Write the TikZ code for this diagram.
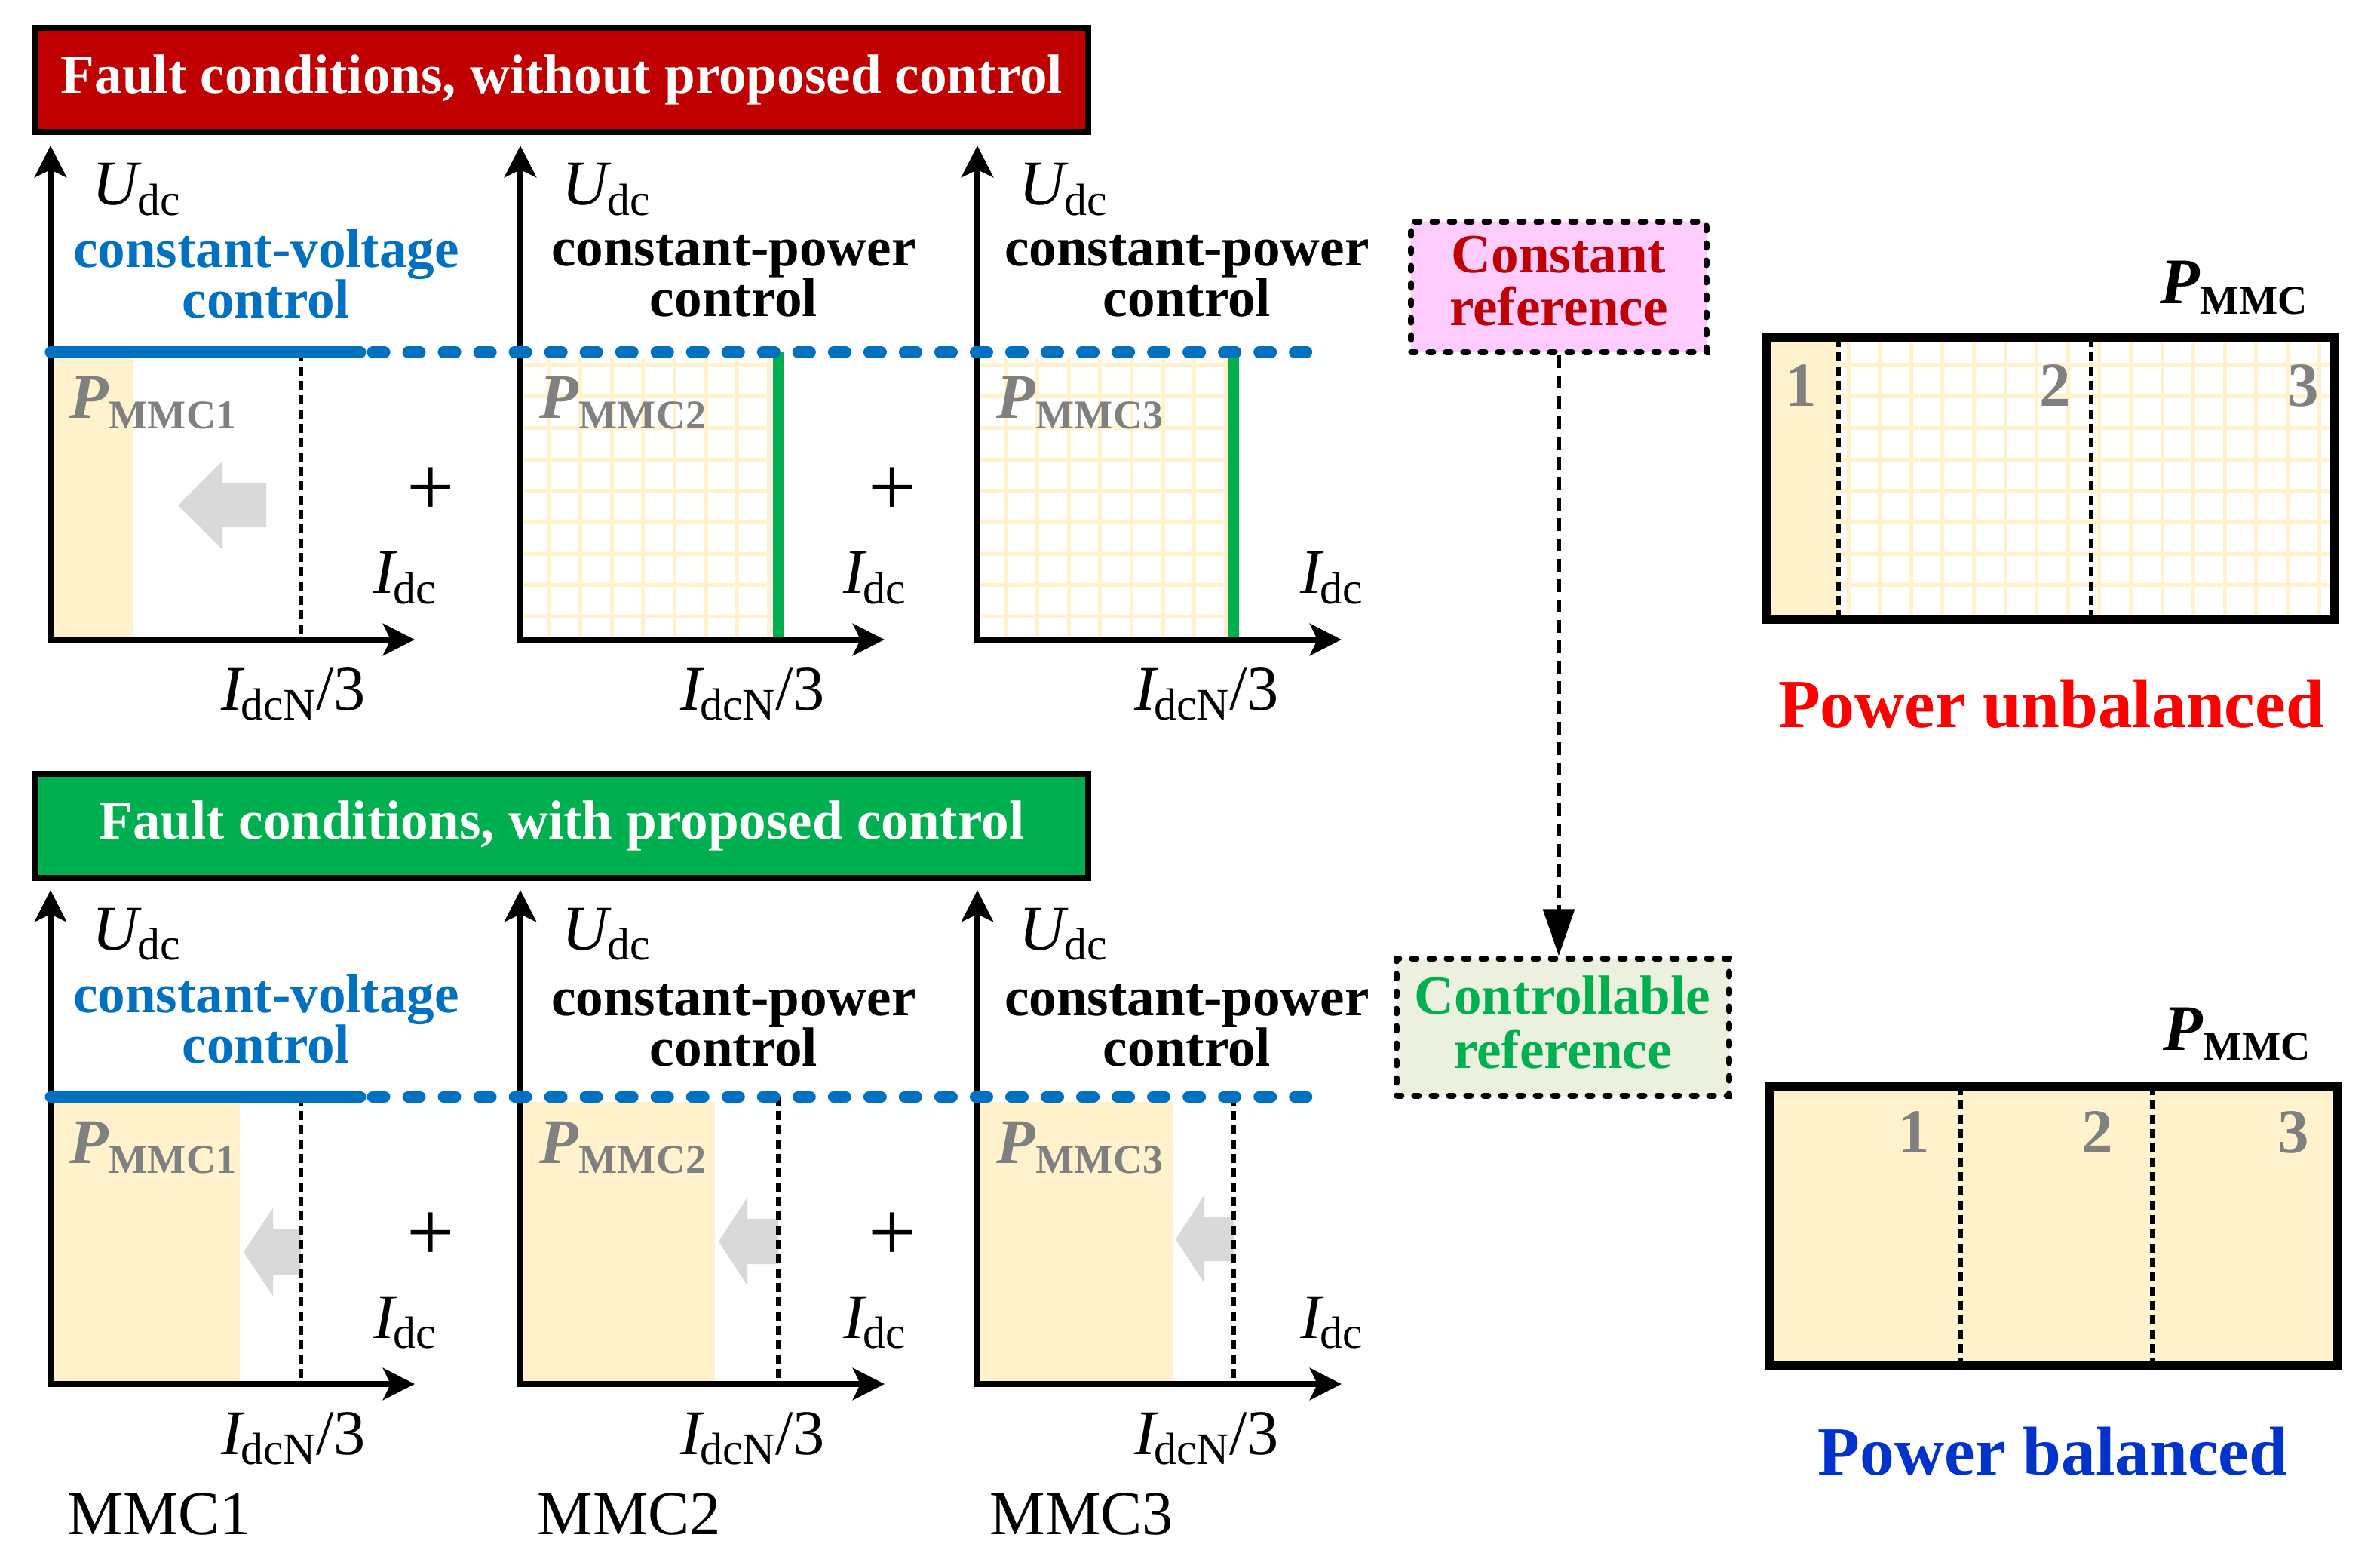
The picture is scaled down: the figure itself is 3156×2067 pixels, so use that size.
\documentclass[tikz,border=0pt]{standalone}
\usepackage{fontspec}
\setmainfont{Liberation Serif}
\usetikzlibrary{arrows.meta}
\definecolor{cvblue}{RGB}{0,112,192}
\definecolor{grn}{RGB}{0,176,80}
\definecolor{lyel}{RGB}{255,242,204}
\definecolor{garrow}{RGB}{217,217,217}
\definecolor{gtext}{RGB}{128,128,128}
\definecolor{pinkb}{RGB}{255,204,255}
\definecolor{lgrn}{RGB}{235,241,222}
\definecolor{tred}{RGB}{192,0,0}
\definecolor{pred}{RGB}{255,0,0}
\definecolor{pblue}{RGB}{0,51,204}
\newcommand{\fsz}[1]{\fontsize{#1}{#1}\selectfont}
\newcommand{\ms}[2]{\textit{#1}\kern-1.5pt\raisebox{-3.7pt}{\fsz{17pt}#2}}
\newcommand{\pmml}[1]{\textbf{\textit{P}}\raisebox{-3.7pt}{\fsz{15.4pt}\textbf{MMC#1}}}
\tikzset{
  axisline/.style={line width=0.08cm, line join=miter, <->, >={Stealth[length=0.42cm,width=0.42cm,inset=0.1cm]}},
  blueline/.style={line width=0.15cm, draw=cvblue, line cap=round},
  bluedash/.style={blueline, dash pattern=on 0.16cm off 0.31cm},
  dotln/.style={line width=0.06cm, dash pattern=on 0.12cm off 0.07cm},
  greenln/.style={line width=0.14cm, draw=grn},
  gridl/.style={line width=0.05cm, draw=lyel},
  lbl/.style={inner sep=0, font=\fsz{24pt}},
  ctrltxt/.style={inner sep=0, font=\fsz{20.8pt}\bfseries},
  plbl/.style={inner sep=0, font=\fsz{24pt}, text=gtext},
  numlbl/.style={inner sep=0, font=\fsz{23.6pt}\bfseries, text=gtext},
  titlebox/.style={draw=black, line width=0.08cm, minimum width=13.96cm, minimum height=1.38cm, inner sep=0, text=white, font=\fsz{20.8pt}\bfseries},
  refbox/.style={draw=black, line width=0.08cm, line cap=round, dash pattern=on 0.06cm off 0.17cm, inner sep=0},
  conn/.style={line width=0.06cm, dash pattern=on 0.17cm off 0.10cm, -{Triangle[length=0.62cm,width=0.41cm]}},
  pbox/.style={line width=0.12cm},
  garr/.style={fill=garrow, draw=none},
  mmclbl/.style={inner sep=0, font=\fsz{23.5pt}},
  plussign/.style={inner sep=0, font=\fsz{32pt}},
}
% grid fill: x1 y1 x2 y2 xstart ystart
\newcommand{\gridfill}[6]{%
  \begin{scope}
    \clip (#1,#2) rectangle (#3,#4);
    \foreach \k in {0,...,18} {
      \draw[gridl] ({#5+41.6*\k},#2) -- ({#5+41.6*\k},#4);
      \draw[gridl] (#1,{#6+41.7*\k}) -- (#3,{#6+41.7*\k});
    }
  \end{scope}}
% axes and axis labels: X, Y(origin), prefix, IdcN centre x
\newcommand{\axesset}[4]{%
  \draw[axisline] (#1,#2-655) -- (#1,#2) -- (#1+483,#2);
  \node[lbl,anchor=base west] (#3u) at (#1+55,#2-576) {\ms{U}{dc}};
  \node[lbl,anchor=base west] (#3i) at (#1+428,#2-61) {\ms{I}{dc}};
  \node[lbl,anchor=base] (#3n) at (#4,#2+93) {\ms{I}{dcN}/3};
}
% grey arrow: tip, back, end, centre y, head half, shaft half
\newcommand{\garrowshape}[6]{%
  \fill[garr] (#1,#4) -- (#2,#4-#5) -- (#2,#4-#6) -- (#3,#4-#6) -- (#3,#4+#6) -- (#2,#4+#6) -- (#2,#4+#5) -- cycle;
}
\begin{document}
\begin{tikzpicture}[x=0.01cm,y=-0.01cm]
\useasboundingbox (0,0) rectangle (3156,2067);
\fill[white] (0,0) rectangle (3156,2067);

% ---------------- titles
\node[titlebox, fill=tred] (title1) at (745,106) {Fault conditions, without proposed control};
\node[titlebox, fill=grn] (title2) at (745,1095) {Fault conditions, with proposed control};

% ---------------- top row fills
\fill[lyel] (69,474) rectangle (176,848);
\gridfill{690}{474}{1032}{848}{686.4}{442.3}
\gridfill{1296}{474}{1636}{848}{1292.4}{442.3}
\garrowshape{236}{295}{353}{670}{58.5}{29}
\draw[dotln] (399,467) -- (399,848);
\draw[greenln] (1032,467) -- (1032,848);
\draw[greenln] (1636,467) -- (1636,848);

% ---------------- bottom row fills
\fill[lyel] (69,1461) rectangle (318,1835);
\fill[lyel] (690,1461) rectangle (948,1835);
\fill[lyel] (1296,1461) rectangle (1555,1835);
\garrowshape{323}{362}{399}{1660}{58.5}{30}
\garrowshape{953}{991}{1032}{1646}{58.5}{30}
\garrowshape{1559}{1597}{1636}{1643}{58.5}{29}
\draw[dotln] (399,1454) -- (399,1835);
\draw[dotln] (1032,1454) -- (1032,1835);
\draw[dotln] (1636,1454) -- (1636,1835);

% ---------------- axes
\axesset{67}{848}{ta}{389}
\axesset{690}{848}{tb}{998}
\axesset{1296}{848}{tc}{1600}
\axesset{67}{1835}{ba}{389}
\axesset{690}{1835}{bb}{998}
\axesset{1296}{1835}{bc}{1600}

% ---------------- blue voltage lines
\draw[blueline] (67,467) -- (478,467);
\draw[bluedash] (494,467) -- (1760,467);
\draw[blueline] (67,1454) -- (478,1454);
\draw[bluedash] (494,1454) -- (1760,1454);

% ---------------- control labels
\node[ctrltxt, text=cvblue, anchor=base] (tav1) at (353,355) {constant-voltage};
\node[ctrltxt, text=cvblue, anchor=base] (tav2) at (353,422) {control};
\node[ctrltxt, anchor=base] (tbv1) at (973,353) {constant-power};
\node[ctrltxt, anchor=base] (tbv2) at (973,420) {control};
\node[ctrltxt, anchor=base] (tcv1) at (1574,353) {constant-power};
\node[ctrltxt, anchor=base] (tcv2) at (1574,420) {control};
\node[ctrltxt, text=cvblue, anchor=base] (bav1) at (353,1342) {constant-voltage};
\node[ctrltxt, text=cvblue, anchor=base] (bav2) at (353,1409) {control};
\node[ctrltxt, anchor=base] (bbv1) at (973,1346) {constant-power};
\node[ctrltxt, anchor=base] (bbv2) at (973,1413) {control};
\node[ctrltxt, anchor=base] (bcv1) at (1574,1346) {constant-power};
\node[ctrltxt, anchor=base] (bcv2) at (1574,1413) {control};

% ---------------- P labels
\node[plbl, anchor=base west] (tap) at (92,555) {\pmml{1}};
\node[plbl, anchor=base west] (tbp) at (715,555) {\pmml{2}};
\node[plbl, anchor=base west] (tcp) at (1321,555) {\pmml{3}};
\node[plbl, anchor=base west] (bap) at (92,1542) {\pmml{1}};
\node[plbl, anchor=base west] (bbp) at (715,1542) {\pmml{2}};
\node[plbl, anchor=base west] (bcp) at (1321,1542) {\pmml{3}};

% ---------------- plus signs
\node[plussign] (tplus1) at (571,652) {+};
\node[plussign] (tplus2) at (1183,652) {+};
\node[plussign] (bplus1) at (571,1640) {+};
\node[plussign] (bplus2) at (1183,1640) {+};

% ---------------- MMC names
\node[mmclbl, anchor=base west] (mmc1) at (89,2034) {MMC1};
\node[mmclbl, anchor=base west] (mmc2) at (712,2034) {MMC2};
\node[mmclbl, anchor=base west] (mmc3) at (1312,2034) {MMC3};

% ---------------- reference boxes
\node[refbox, fill=pinkb, minimum width=3.91cm, minimum height=1.72cm] (cref) at (2067,380.5) {};
\node[ctrltxt, text=tred, anchor=base] (cref1) at (2067,362) {Constant};
\node[ctrltxt, text=tred, anchor=base] (cref2) at (2067,432) {reference};
\node[refbox, fill=lgrn, minimum width=4.40cm, minimum height=1.81cm] (ctrl) at (2072.5,1362) {};
\node[ctrltxt, text=grn, anchor=base] (ctrl1) at (2072,1344) {Controllable};
\node[ctrltxt, text=grn, anchor=base] (ctrl2) at (2072,1416) {reference};
\draw[conn] (cref.south) -- (cref.south |- ctrl.north);

% ---------------- power box, unbalanced
\fill[lyel] (2348,454) rectangle (2438,815);
\gridfill{2438}{454}{3090}{815}{2451}{484}
\draw[dotln] (2438,448) -- (2438,821);
\draw[dotln] (2773,448) -- (2773,821);
\draw[pbox] (2342,448) rectangle (3096,821);
\node[inner sep=0, anchor=base west, font=\fsz{24.5pt}] (pmt) at (2864,403) {\textbf{\textit{P}}\raisebox{-3.7pt}{\fsz{15.4pt}\textbf{MMC}}};
\node[numlbl, anchor=base east] (u1) at (2410,539) {1};
\node[numlbl, anchor=base east] (u2) at (2747,539) {2};
\node[numlbl, anchor=base east] (u3) at (3076,539) {3};
\node[inner sep=0, anchor=base, text=pred, font=\fsz{26pt}\bfseries] (unb) at (2720,965) {Power unbalanced};

% ---------------- power box, balanced
\fill[lyel] (2347,1440) rectangle (3100,1811);
\draw[dotln] (2600,1440) -- (2600,1811);
\draw[dotln] (2854,1440) -- (2854,1811);
\draw[pbox] (2347,1440) rectangle (3100,1811);
\node[inner sep=0, anchor=base west, font=\fsz{24.5pt}] (pmb) at (2868,1392) {\textbf{\textit{P}}\raisebox{-3.7pt}{\fsz{15.4pt}\textbf{MMC}}};
\node[numlbl, anchor=base east] (b1) at (2560,1528) {1};
\node[numlbl, anchor=base east] (b2) at (2803,1528) {2};
\node[numlbl, anchor=base east] (b3) at (3063,1528) {3};
\node[inner sep=0, anchor=base, text=pblue, font=\fsz{26pt}\bfseries] (bal) at (2722,1955) {Power balanced};
\end{tikzpicture}
\end{document}
